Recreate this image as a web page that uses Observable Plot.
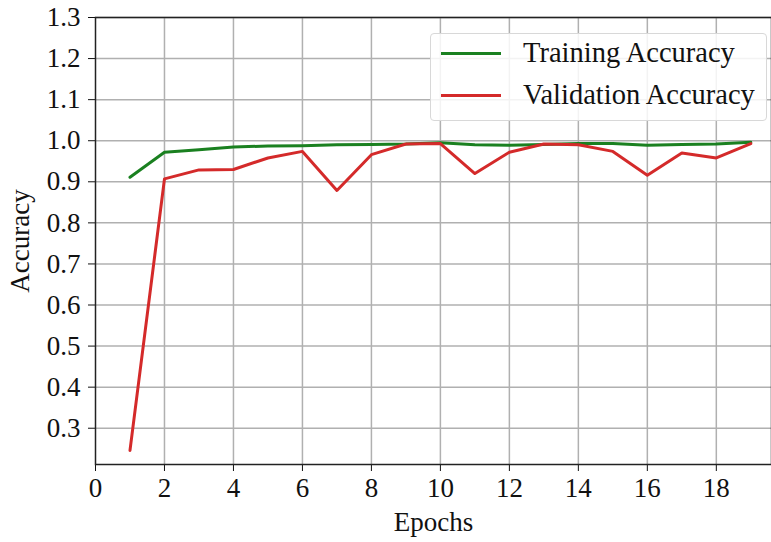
<!DOCTYPE html>
<html><head><meta charset="utf-8">
<script src="https://cdn.jsdelivr.net/npm/d3@7"></script>
<script src="https://cdn.jsdelivr.net/npm/@observablehq/plot@0.6"></script>
<style>
body{margin:0;background:#fff;}
#wrap{position:relative;width:771px;height:542px;overflow:hidden;font-family:"Liberation Serif","DejaVu Serif",serif;}
#legend{position:absolute;left:430px;top:33px;width:337px;height:88px;box-sizing:border-box;border:1px solid #d8d8d8;border-radius:4px;background:rgba(255,255,255,0.85);font-size:28.5px;color:#111;}
.row{position:absolute;left:0;display:flex;align-items:center;}
.sw{display:inline-block;width:60px;height:3px;margin-left:10px;margin-right:22px;}
</style></head>
<body><div id="wrap"><div id="chart"></div>
<div id="legend">
<div class="row" style="top:0px;height:38px"><span class="sw" style="background:#1a8020"></span><span>Training Accuracy</span></div>
<div class="row" style="top:42px;height:38px"><span class="sw" style="background:#d42a2a"></span><span>Validation Accuracy</span></div>
</div></div>
<script>
const epochs = [1,2,3,4,5,6,7,8,9,10,11,12,13,14,15,16,17,18,19];
const trainAcc = [0.911,0.972,0.978,0.985,0.987,0.988,0.990,0.991,0.992,0.995,0.990,0.989,0.991,0.993,0.993,0.989,0.991,0.992,0.996];
const valAcc = [0.246,0.907,0.929,0.930,0.958,0.974,0.879,0.966,0.992,0.993,0.920,0.972,0.992,0.990,0.974,0.916,0.970,0.958,0.993];
const xTicks = [0,2,4,6,8,10,12,14,16,18];
const yTicks = [0.3,0.4,0.5,0.6,0.7,0.8,0.9,1.0,1.1,1.2,1.3];

const train = epochs.map((e,i)=>({epoch:e, acc:trainAcc[i]}));
const val = epochs.map((e,i)=>({epoch:e, acc:valAcc[i]}));

const chart = Plot.plot({
  width: 771, height: 542,
  marginLeft: 95, marginRight: 0, marginTop: 17, marginBottom: 78,
  style: {fontFamily: '"Liberation Serif", serif', fontSize: "27px", color: "#111", background: "#fff"},
  x: {domain: [0, 19.6], ticks: xTicks, tickFormat: d => String(d), tickSize: 7, tickPadding: 6, label: "Epochs", labelAnchor: "center", labelArrow: "none", labelOffset: 66},
  y: {domain: [0.2117, 1.3], ticks: yTicks, tickFormat: d => d.toFixed(1), tickSize: 7, tickPadding: 8, label: "Accuracy", labelAnchor: "center", labelArrow: "none", labelOffset: 86},
  marks: [
    Plot.gridX(xTicks.filter(d=>d>0), {stroke: "#b0b0b0", strokeOpacity: 1, strokeWidth: 1.5}),
    Plot.gridY(yTicks, {stroke: "#b0b0b0", strokeOpacity: 1, strokeWidth: 1.5}),
    Plot.line(train, {x: "epoch", y: "acc", stroke: "#1a8020", strokeWidth: 3}),
    Plot.line(val, {x: "epoch", y: "acc", stroke: "#d42a2a", strokeWidth: 3}),
    Plot.frame({stroke: "#222", strokeWidth: 1.5})
  ]
});
document.getElementById("chart").appendChild(chart);
</script></body></html>
